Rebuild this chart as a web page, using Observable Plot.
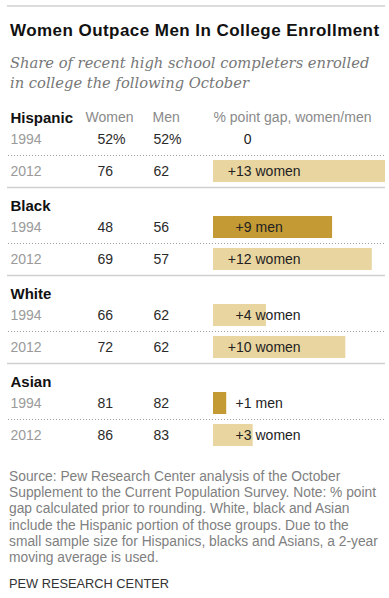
<!DOCTYPE html>
<html>
<head>
<meta charset="utf-8">
<script src="https://cdn.jsdelivr.net/npm/d3@7"></script>
<script src="https://cdn.jsdelivr.net/npm/@observablehq/plot@0.6"></script>
<style>
  body { margin: 0; background: #fff; font-family: "Liberation Sans", Arial, sans-serif; }
  #wrap { width: 389px; }
  .rule { margin: 5px 4px 0 7px; height: 2px; background: #dcdcdc; }
  h1 { margin: 14px 0 0 10px; font-size: 17px; letter-spacing: 0.45px; line-height: 20px; font-weight: bold; color: #111; white-space: nowrap; }
  .sub { margin: 12px 0 0 10px; font-family: "DejaVu Serif", Georgia, serif; font-style: italic; font-size: 14.7px; line-height: 20px; color: #777; white-space: nowrap; }
  #chart { margin-top: 7px; height: 352px; }
  #chart svg { display: block; }
  .note { margin: 17px 0 0 9px; font-size: 13.8px; line-height: 16.2px; color: #808080; white-space: nowrap; }
  .credit { margin: 10px 0 0 9px; font-size: 12.8px; line-height: 16px; color: #333; }
</style>
</head>
<body>
<div id="wrap">
  <div class="rule"></div>
  <h1>Women Outpace Men In College Enrollment</h1>
  <div class="sub">Share of recent high school completers enrolled<br>in college the following October</div>
  <div id="chart"></div>
  <div class="note">Source: Pew Research Center analysis of the October<br>Supplement to the Current Population Survey. Note: % point<br>gap calculated prior to rounding. White, black and Asian<br>include the Hispanic portion of those groups. Due to the<br>small sample size for Hispanics, blacks and Asians, a 2-year<br>moving average is used.</div>
  <div class="credit">PEW RESEARCH CENTER</div>
</div>
<script>
const groups = ["Hispanic", "Black", "White", "Asian"];
const years = ["1994", "2012"];
const women = [52, 76, 48, 69, 66, 72, 81, 86];
const men = [52, 62, 56, 57, 62, 62, 82, 83];
const gap = [0, 13, 9, 12, 4, 10, 1, 3];
const leader = ["", "women", "men", "women", "women", "women", "men", "women"];
const columnHeaders = ["Women", "Men", "% point gap, women/men"];

const rows = women.map((w, i) => ({
  group: groups[Math.floor(i / 2)],
  year: years[i % 2],
  women: i === 0 ? w + "%" : String(w),
  men: i === 0 ? men[i] + "%" : String(men[i]),
  gap: gap[i],
  leader: leader[i],
  num: gap[i] === 0 ? "\u2007" + gap[i] : "+" + gap[i]
}));
const heads = groups.map(g => ({group: g}));
const firstGroup = [{group: groups[0]}];

const chart = Plot.plot({
  width: 389,
  height: 352,
  marginTop: 0, marginBottom: 0, marginLeft: 0, marginRight: 0,
  style: {fontFamily: "Liberation Sans, Arial, sans-serif", fontSize: "14px", background: "transparent"},
  fy: {domain: groups, range: [0, 352], padding: 0, axis: null},
  y: {domain: years, range: [23, 87], padding: 0, axis: null},
  x: {domain: [0, 13], range: [213, 385], axis: null},
  color: {domain: ["women", "men"], range: ["#e9d5a0", "#c49a35"]},
  marks: [
    Plot.ruleY(rows.filter(d => d.year === "1994"), {fy: "group", y: "year", dy: 16, stroke: "#a0a0a0", strokeWidth: 1, strokeDasharray: "1,2", insetLeft: 8, insetRight: 4}),
    Plot.ruleY(rows.filter(d => d.year === "2012" && d.group !== groups[groups.length - 1]), {fy: "group", y: "year", dy: 16, stroke: "#cfcfcf", strokeWidth: 1.5, insetLeft: 7, insetRight: 4}),
    Plot.barX(rows.filter(d => d.gap > 0), {fy: "group", y: "year", x1: 0, x2: "gap", fill: "leader", insetTop: 5, insetBottom: 5}),
    Plot.text(heads, {fy: "group", text: "group", frameAnchor: "top-left", lineAnchor: "middle", dx: 10, dy: 17.5, textAnchor: "start", fontWeight: "bold", fontSize: 15, fill: "#111"}),
    Plot.text(firstGroup, {fy: "group", text: () => columnHeaders[0], frameAnchor: "top-left", lineAnchor: "middle", dx: 85, dy: 17.5, textAnchor: "start", fill: "#8a8a8a"}),
    Plot.text(firstGroup, {fy: "group", text: () => columnHeaders[1], frameAnchor: "top-left", lineAnchor: "middle", dx: 152, dy: 17.5, textAnchor: "start", fill: "#8a8a8a"}),
    Plot.text(firstGroup, {fy: "group", text: () => columnHeaders[2], frameAnchor: "top-left", lineAnchor: "middle", dx: 213, dy: 17.5, textAnchor: "start", fill: "#8a8a8a"}),
    Plot.text(rows, {fy: "group", y: "year", text: "year", frameAnchor: "left", dx: 10, textAnchor: "start", fill: "#9a9a9a"}),
    Plot.text(rows, {fy: "group", y: "year", text: "women", frameAnchor: "left", dx: 97, textAnchor: "start", fill: "#2a2a2a"}),
    Plot.text(rows, {fy: "group", y: "year", text: "men", frameAnchor: "left", dx: 153, textAnchor: "start", fill: "#2a2a2a"}),
    Plot.text(rows, {fy: "group", y: "year", x: 0, text: "num", dx: 38, textAnchor: "end", fill: "#222"}),
    Plot.text(rows, {fy: "group", y: "year", x: 0, text: "leader", dx: 42, textAnchor: "start", fill: "#222"})
  ]
});
document.getElementById("chart").appendChild(chart);
</script>
</body>
</html>
